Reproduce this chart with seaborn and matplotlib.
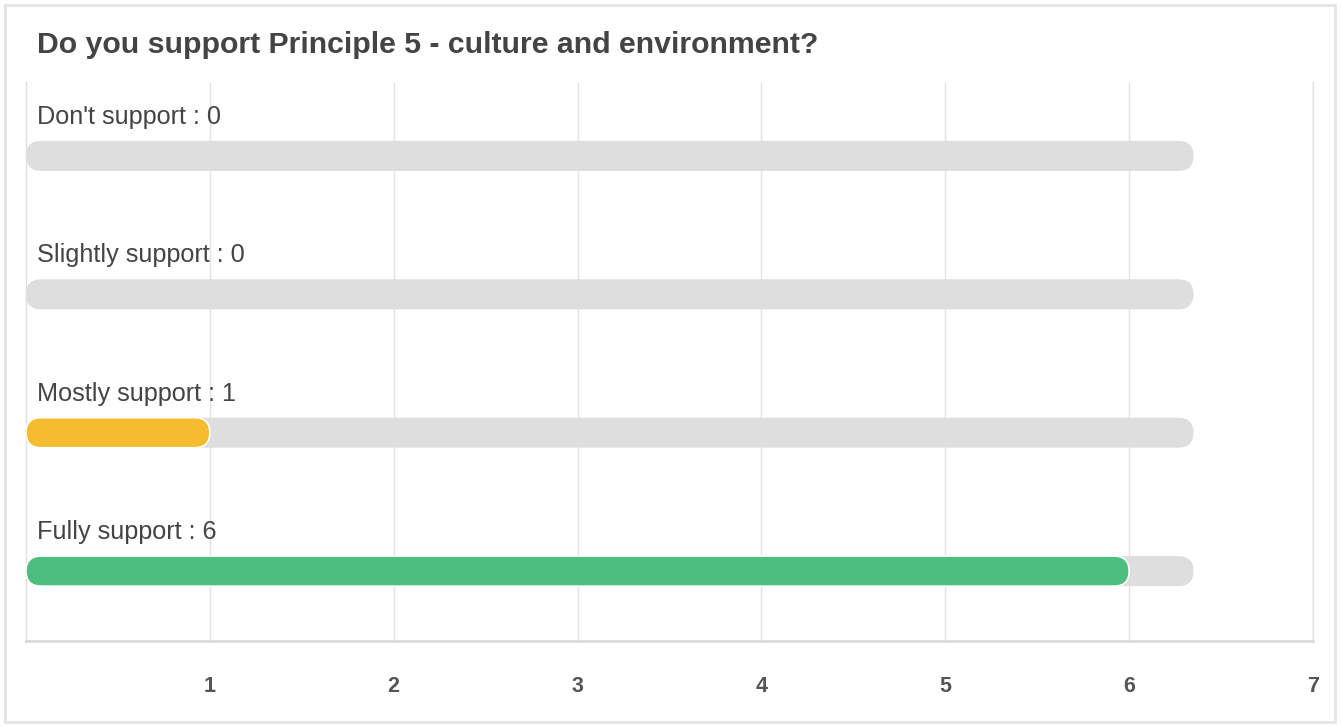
import matplotlib
matplotlib.use("Agg")
import matplotlib.pyplot as plt
from matplotlib.patches import FancyBboxPatch, Rectangle
import seaborn as sns
import pandas as pd

# Survey responses
answers = ["Don't support", "Slightly support", "Mostly support", "Fully support"]
counts = [0, 0, 1, 6]
bar_colors = ["#d9d9d9", "#d9d9d9", "#f5bc2f", "#4dbd80"]
track_length = 6.35
x_ticks = [1, 2, 3, 4, 5, 6, 7]
title = "Do you support Principle 5 - culture and environment?"

sns.set_theme(style="white")
plt.rcParams["font.family"] = ["Liberation Sans", "DejaVu Sans"]

W, H, DPI = 13.41, 7.27, 100
fig = plt.figure(figsize=(W, H), dpi=DPI)
fig.patch.set_facecolor("white")

left_px, right_px, top_px, bottom_px = 26, 1313, 82, 641
ax = fig.add_axes([left_px / 1341, 1 - bottom_px / 727,
                   (right_px - left_px) / 1341, (bottom_px - top_px) / 727])

df = pd.DataFrame({"answer": answers, "count": counts,
                   "track": [track_length] * len(answers)})

bar_h = 0.217
# grey background tracks
sns.barplot(data=df, y="answer", x="track", color="#dedede", width=bar_h,
            saturation=1, ax=ax, orient="h", zorder=2)
n_track = len(ax.patches)
# value bars
sns.barplot(data=df, y="answer", x="count", hue="answer",
            palette=dict(zip(answers, bar_colors)), legend=False,
            saturation=1, width=bar_h, ax=ax, orient="h", zorder=3)

ax.set_xlim(0, 7)
ax.set_ylim(3.505, -0.534)

# pixel scale of each axis to get round caps of equal radius
pos = ax.get_position()
px_x = pos.width * W * DPI / 7
px_y = pos.height * H * DPI / (3.505 + 0.534)
aspect = px_x / px_y

patches = list(ax.patches)
for i, p in enumerate(patches):
    x, y = p.get_x(), p.get_y()
    w, h = p.get_width(), p.get_height()
    fc = p.get_facecolor()
    z = p.get_zorder()
    p.remove()
    if w <= 0:
        continue
    r = (h * px_y / 2) / px_x
    is_value = i >= n_track
    fb = FancyBboxPatch((x, y), w, h,
                        boxstyle=f"round,pad=0,rounding_size={r}",
                        mutation_aspect=aspect, facecolor=fc,
                        edgecolor="white" if is_value else "none",
                        linewidth=1.2 if is_value else 0, zorder=z)
    ax.add_patch(fb)

# category labels above each bar
for i, (a, c) in enumerate(zip(answers, counts)):
    ax.text(11 / px_x, i - 39 / px_y, f"{a} : {c}", fontsize=18.2,
            color="#444444", va="center", ha="left", zorder=5)

ax.set_xticks(x_ticks)
ax.set_xticklabels([str(t) for t in x_ticks], fontsize=15.5, fontweight="bold",
                   color="#555555")
ax.tick_params(axis="x", length=0, pad=25)
ax.set_yticks([])
ax.set_xlabel("")
ax.set_ylabel("")
ax.grid(axis="x", color="#e2e2e2", linewidth=1)
ax.set_axisbelow(True)
ax.spines["top"].set_visible(False)
ax.spines["left"].set_color("#e0e0e0")
ax.spines["right"].set_color("#e2e2e2")
ax.spines["bottom"].set_color("#dadada")
ax.spines["bottom"].set_linewidth(2)
ax.spines["left"].set_linewidth(1)
ax.spines["right"].set_linewidth(1)

fig.text(37 / 1341, 1 - 45 / 727, title, fontsize=21.8, fontweight="bold",
         color="#444444", va="center", ha="left")

# card frame
fig.patches.append(Rectangle((5 / 1341, 1 - 722 / 727), 1330 / 1341, 717 / 727,
                             transform=fig.transFigure, fill=False,
                             edgecolor="#e4e4e4", linewidth=2))

fig.savefig("out.png", dpi=DPI)
